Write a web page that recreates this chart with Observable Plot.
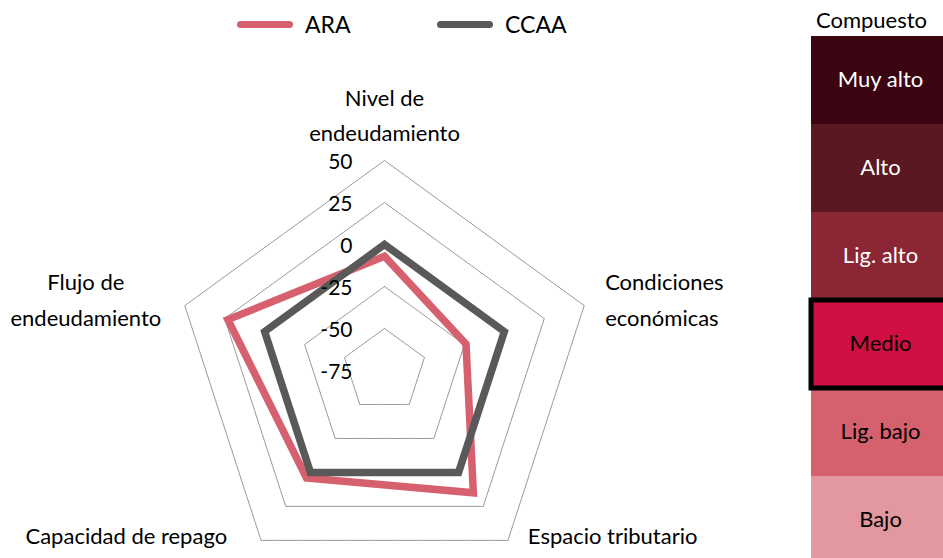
<!DOCTYPE html>
<html>
<head>
<meta charset="utf-8">
<script src="https://cdn.jsdelivr.net/npm/d3@7"></script>
<script src="https://cdn.jsdelivr.net/npm/@observablehq/plot@0.6"></script>
<style>
  body { margin: 0; background: #fff; font-family: Lato, "Noto Sans", sans-serif; }
  #wrap { position: relative; width: 943px; height: 558px; overflow: hidden; background: #fff; }
  #chart { position: absolute; left: 0; top: 0; }
  #panel { position: absolute; left: 780px; top: 0; }
  .leg { position: absolute; top: 0; height: 48px; display: flex; align-items: center; font-size: 23px; color: #000; }
  .sw { width: 56px; height: 7px; border-radius: 4px; margin-right: 12px; }
</style>
</head>
<body>
<div id="wrap">
  <div id="chart"></div>
  <div id="panel"></div>
  <div id="legend"></div>
</div>
<script>
// ---- data ----
const axes = ["Nivel de\nendeudamiento", "Condiciones\neconómicas", "Espacio tributario", "Capacidad de repago", "Flujo de\nendeudamiento"];
const series = ["ARA", "CCAA"];
const araValues = [-7, -24, 15, 4, 23];
const ccaaValues = [0, 0, 0, 0, 0];
const gridLevels = [50, 25, 0, -25, -50];
const tickValues = [50, 25, 0, -25, -50, -75];
const tickLabels = ["50", "25", "0", "-25", "-50", "-75"];
const scaleMin = -75;
const categories = ["Muy alto", "Alto", "Lig. alto", "Medio", "Lig. bajo", "Bajo"];
const darkCategories = ["Muy alto", "Alto", "Lig. alto"];
const highlighted = "Medio";

// ---- styles ----
const seriesColors = ["#d6606e", "#595959"];
const categoryColors = ["#3a0411", "#5a1821", "#8b2634", "#cf0f41", "#d5616e", "#e3979e"];
const FONT = "Lato, 'Noto Sans', sans-serif";

// ---- geometry helpers (polar -> cartesian in value units) ----
const n = axes.length;
const ang = i => (i * 2 * Math.PI) / n;
const px = (v, i) => (v - scaleMin) * Math.sin(ang(i));
const py = (v, i) => (v - scaleMin) * Math.cos(ang(i));

const gridData = gridLevels.flatMap(level => axes.map((a, i) => ({ level, i })));
const seriesValues = { ARA: araValues, CCAA: ccaaValues };
const lineData = series.flatMap(s => seriesValues[s].map((v, i) => ({ series: s, v, i })));
const ticks = tickValues.map((v, j) => ({ v, label: tickLabels[j] }));

// pixel layout
const W = 800, H = 558, CX = 384, CY = 370;
const K = 42 / 25; // px per unit
const labelR = 232 / K + scaleMin; // label radius expressed as a value
const labelLayout = [
  { textAnchor: "middle", dx: 0, dy: -26 },
  { textAnchor: "start", dx: 0, dy: -2 },
  { textAnchor: "start", dx: 7, dy: -25 },
  { textAnchor: "end", dx: -21, dy: -25 },
  { textAnchor: "middle", dx: -78, dy: -2 }
];

const chart = Plot.plot({
  width: W,
  height: H,
  margin: 0,
  style: { fontFamily: FONT, background: "transparent", overflow: "visible" },
  x: { domain: [-CX / K, (W - CX) / K], axis: null },
  y: { domain: [-(H - CY) / K, CY / K], axis: null },
  color: { domain: series, range: seriesColors },
  marks: [
    Plot.line(gridData, {
      x: d => px(d.level, d.i), y: d => py(d.level, d.i), z: "level",
      curve: "linear-closed", stroke: "#7a7a7a", strokeWidth: 0.8, strokeDasharray: "1.6,0.8"
    }),
    Plot.line(lineData, {
      x: d => px(d.v, d.i), y: d => py(d.v, d.i), z: "series", stroke: "series",
      curve: "linear-closed", strokeWidth: 7.5, strokeLinejoin: "miter", strokeMiterlimit: 10
    }),
    Plot.text(ticks, {
      x: d => px(d.v, 0), y: d => py(d.v, 0), text: "label",
      textAnchor: "end", dx: -32, dy: 2, fontSize: 21, fill: "#000"
    }),
    ...axes.map((name, i) => Plot.text([name], {
      x: () => px(labelR, i), y: () => py(labelR, i), text: d => d,
      lineAnchor: "middle", lineHeight: 1.6, fontSize: 22, fill: "#000",
      ...labelLayout[i]
    }))
  ]
});
document.getElementById("chart").append(chart);

const panel = Plot.plot({
  width: 163,
  height: 558,
  marginLeft: 31, marginRight: 0, marginTop: 0, marginBottom: 0,
  style: { fontFamily: FONT, background: "transparent", overflow: "visible" },
  x: { axis: null },
  y: { type: "band", domain: categories, range: [36, 564], padding: 0, axis: null },
  color: { domain: categories, range: categoryColors },
  marks: [
    Plot.cell(categories, { y: d => d, fill: d => d }),
    Plot.cell([highlighted], { y: d => d, fill: "none", stroke: "#000", strokeWidth: 5, insetRight: -4 }),
    Plot.text(categories.filter(c => darkCategories.includes(c)), { y: d => d, text: d => d, fill: "#fff", fontSize: 22, dx: 3, dy: -1 }),
    Plot.text(categories.filter(c => !darkCategories.includes(c)), { y: d => d, text: d => d, fill: "#000", fontSize: 22, dx: 3, dy: -1 }),
    Plot.text(["Compuesto"], { frameAnchor: "top", lineAnchor: "middle", text: d => d, dy: 20, dx: -6, fontSize: 22, fill: "#000" })
  ]
});
document.getElementById("panel").append(panel);

// series legend (HTML)
const legend = document.getElementById("legend");
const legendLeft = [237, 437];
series.forEach((s, j) => {
  const item = document.createElement("div");
  item.className = "leg";
  item.style.left = legendLeft[j] + "px";
  item.innerHTML = `<div class="sw" style="background:${seriesColors[j]}"></div><span>${s}</span>`;
  legend.append(item);
});
</script>
</body>
</html>
